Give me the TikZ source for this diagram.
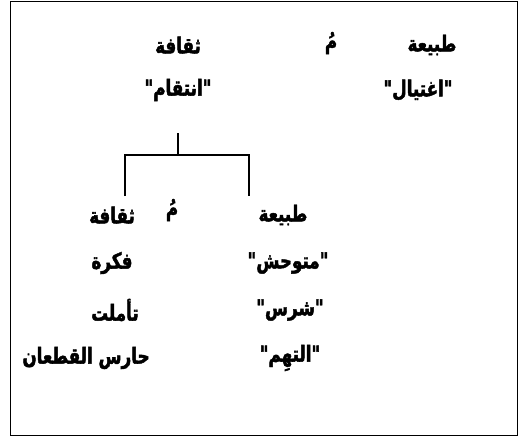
\documentclass[tikz,border=0pt]{standalone}
\usepackage{fontspec}
\TeXXeTstate=1
\newfontfamily\arabicfont[Script=Arabic,FakeStretch=0.76,FakeBold=2]{DejaVu Sans}
\begin{document}
\begin{tikzpicture}[x=1pt,y=-1pt,
  lbl/.style={font=\arabicfont\bfseries\fontsize{22}{26}\selectfont, inner sep=0pt, anchor=center},
  conn/.style={line width=1.6pt}]
\useasboundingbox (0,0) rectangle (519,439);
\fill[white] (0,0) rectangle (519,439);
\draw[line width=1.4pt] (10.5,1.5) rectangle (517.5,435.5);
% row 1
\node[lbl] (tab1) at (432,45) {\beginR طبيعة\endR};
\node[lbl] (mu1) at (331,43) {\beginR مُ\endR};
\node[lbl] (thaq1) at (178,45) {\beginR ثقافة\endR};
% row 2
\node[lbl] (ightiyal) at (418,90) {\beginR "اغتيال"\endR};
\node[lbl] (intiqam) at (178,90) {\beginR "انتقام"\endR};
% row 3
\node[lbl] (tab2) at (283,215) {\beginR طبيعة\endR};
\node[lbl] (mu2) at (172,210) {\beginR مُ\endR};
\node[lbl] (thaq2) at (112,215) {\beginR ثقافة\endR};
% rows 4-6
\node[lbl] (mutawahhish) at (288,263) {\beginR "متوحش"\endR};
\node[lbl] (fikra) at (112,263) {\beginR فكرة\endR};
\node[lbl] (sharis) at (290,310) {\beginR "شرس"\endR};
\node[lbl] (taammalat) at (115,310) {\beginR تأملت\endR};
\node[lbl] (iltahim) at (290,358) {\beginR "التهِم"\endR};
\node[lbl] (haris) at (86,358) {\beginR حارس القطعان\endR};
% tree
\coordinate (top) at (178,133);
\coordinate (j) at (178,155);
\coordinate (bl) at (125,196);
\coordinate (br) at (249,196);
\draw[conn] (top) -- (j);
\draw[conn] (bl) |- (j) -| (br);
\end{tikzpicture}
\end{document}
